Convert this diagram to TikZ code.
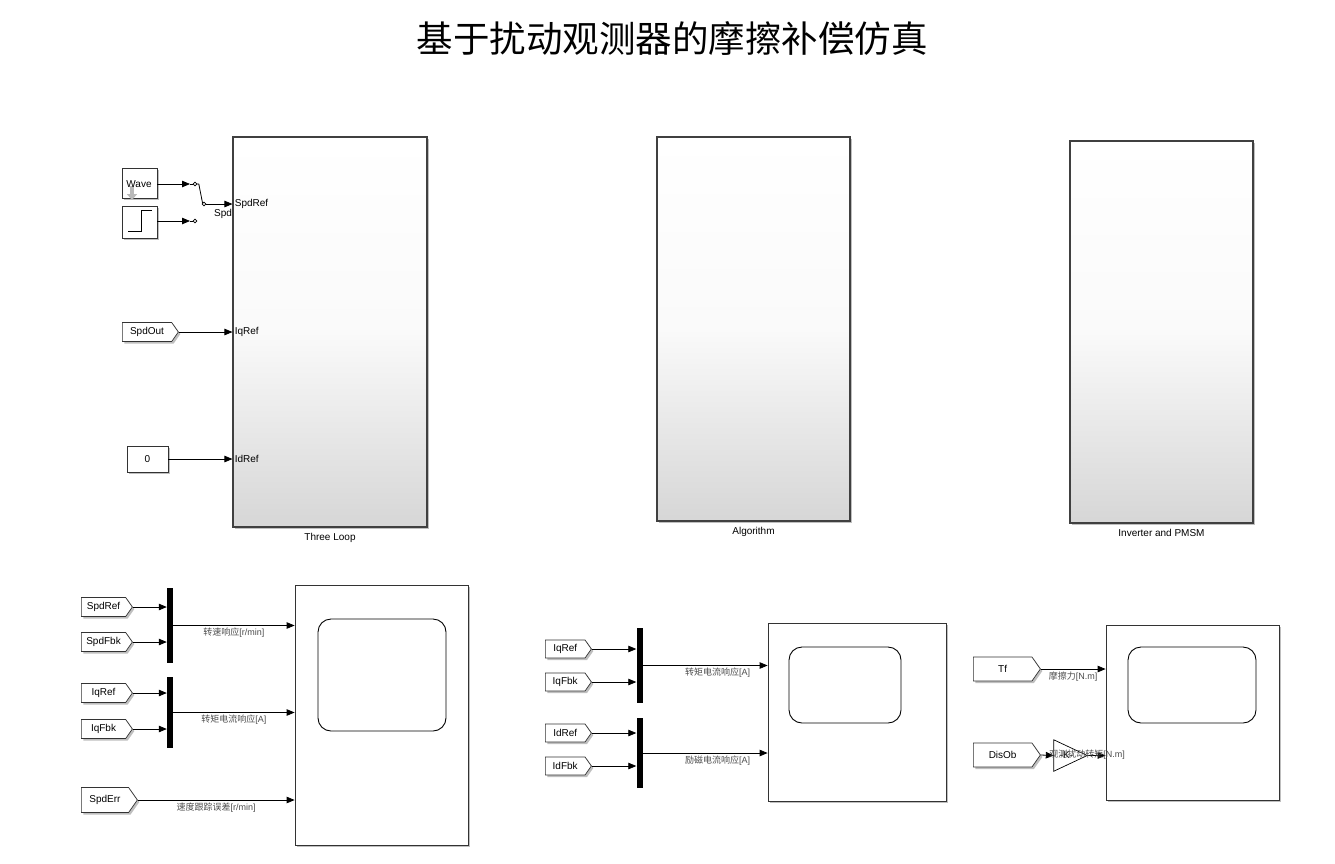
\documentclass[tikz,border=0pt]{standalone}
\usepackage{fontspec}
\setmainfont{Liberation Sans}
\newfontfamily\cjk{Noto Sans CJK SC}
\usetikzlibrary{shapes,arrows.meta,positioning,shadows}

\begin{document}
\begin{tikzpicture}[x=1pt, y=-1pt,
    shadowed/.style={drop shadow={shadow xshift=2pt, shadow yshift=-2pt, opacity=0.25, fill=black}},
    subsys/.style={rectangle, draw=black!75, line width=1.1pt, top color=white, bottom color=gray!32, middle color=gray!4, inner sep=0pt, shadowed},
    blk/.style={rectangle, draw=black!80, fill=white, line width=0.8pt, inner sep=0pt, shadowed, font=\fontsize{10}{12}\selectfont},
    scopebox/.style={rectangle, draw=black!80, fill=white, line width=0.8pt, inner sep=0pt, shadowed},
    screen/.style={rectangle, rounded corners=13pt, draw=black, line width=0.9pt, inner sep=0pt},
    tag/.style={shape=signal, signal to=east, signal pointer angle=110, draw=black!80, fill=white, line width=0.7pt, inner sep=2pt, anchor=west, minimum height=19pt, font=\fontsize{10}{12}\selectfont, shadowed},
    mux/.style={rectangle, fill=black, minimum width=6pt, inner sep=0pt},
    sig/.style={-{Triangle[length=8pt,width=6.5pt]}, line width=0.8pt},
    port/.style={right, inner sep=2pt, font=\fontsize{10}{12}\selectfont},
    lab/.style={inner sep=2pt, text=black!70, font=\fontsize{9}{10}\selectfont},
    caption/.style={font=\fontsize{10}{12}\selectfont}
]
    \useasboundingbox (0,0) rectangle (1335,863);

    \node[font=\cjk\fontsize{36.5}{40}\selectfont] (title) at (672,39) {基于扰动观测器的摩擦补偿仿真};

    % subsystems
    \node[subsys, minimum width=194pt, minimum height=390pt] (three) at (330,332) {};
    \node[subsys, minimum width=193pt, minimum height=384pt] (algo) at (753.5,329) {};
    \node[subsys, minimum width=183pt, minimum height=382pt] (inv) at (1161.5,332) {};
    \node[caption, below=2pt of three] (threelab) {Three Loop};
    \node[caption, below=2pt of algo] (algolab) {Algorithm};
    \node[caption, below=2pt of inv] (invlab) {Inverter and PMSM};

    % speed reference with manual switch
    \node[blk, minimum width=35pt, minimum height=30pt] (wave) at (139.5,183) {};
    \draw[gray!55, line width=3.5pt, -{Triangle[length=6pt,width=10pt]}] (132,186) -- (132,200);
    \node[font=\fontsize{10}{12}\selectfont] (wavetxt) at (139,184) {Wave};
    \node[blk, minimum width=35pt, minimum height=32pt] (step) at (139.5,222) {};
    \draw[line width=0.9pt] (128,231) -- (141,231) -- (141,210) -- (152,210);

    \coordinate (swa) at (195,184);
    \coordinate (swb) at (195,221);
    \coordinate (swo) at (204,204);
    \draw[sig] (wave.east |- swa) -- ([xshift=-5pt]swa);
    \draw[sig] (step.east |- swb) -- ([xshift=-5pt]swb);
    \draw[line width=0.7pt] ([xshift=-5pt]swa) -- ([xshift=-1.8pt]swa);
    \draw[line width=0.7pt] ([xshift=-5pt]swb) -- ([xshift=-1.8pt]swb);
    \draw[line width=0.7pt] (swa) circle[radius=1.8] (swb) circle[radius=1.8] (swo) circle[radius=1.8];
    \draw[line width=0.8pt] ([xshift=1.8pt]swa) -- ++(2,0) -- ([xshift=-1.5pt, yshift=1.2pt]swo);
    \draw[sig] ([xshift=1.8pt]swo) -- (swo -| three.west) node[port] {SpdRef};
    \node[font=\fontsize{10}{12}\selectfont] (spdlab) at (223,214) {Spd};

    \node[tag, minimum width=56pt] (spdout) at (122,332) {SpdOut};
    \draw[sig] (spdout.east) -- (spdout.east -| three.west) node[port] {IqRef};
    \node[blk, minimum width=41pt, minimum height=26pt] (zero) at (147.5,459) {0};
    \draw[sig] (zero.east) -- (zero.east -| three.west) node[port] {IdRef};

    % scope 1
    \node[scopebox, minimum width=173pt, minimum height=260pt] (sc1) at (381.5,715) {};
    \node[screen, minimum width=128pt, minimum height=112pt] (scr1) at (382,675) {};
    \node[tag, minimum width=51pt] (t1) at (81,607) {SpdRef};
    \node[tag, minimum width=51pt] (t2) at (81,642) {SpdFbk};
    \node[tag, minimum width=51pt] (t3) at (81,693) {IqRef};
    \node[tag, minimum width=51pt] (t4) at (81,729) {IqFbk};
    \node[tag, minimum width=56pt, minimum height=25pt] (t5) at (81,800) {SpdErr};
    \node[mux, minimum height=75pt] (m1) at (170,625.5) {};
    \node[mux, minimum height=71pt] (m2) at (170,712.5) {};
    \draw[sig] (t1.east) -- (t1.east -| m1.west);
    \draw[sig] (t2.east) -- (t2.east -| m1.west);
    \draw[sig] (t3.east) -- (t3.east -| m2.west);
    \draw[sig] (t4.east) -- (t4.east -| m2.west);
    \draw[sig] (m1.east) -- (m1.east -| sc1.west) node[lab, below, midway] {{\cjk 转速响应}[r/min]};
    \draw[sig] (m2.east) -- (m2.east -| sc1.west) node[lab, below, midway] {{\cjk 转矩电流响应}[A]};
    \draw[sig] (t5.east) -- (t5.east -| sc1.west) node[lab, below, midway] {{\cjk 速度跟踪误差}[r/min]};

    % scope 2
    \node[scopebox, minimum width=178pt, minimum height=178pt] (sc2) at (857,712) {};
    \node[screen, minimum width=112pt, minimum height=76pt] (scr2) at (845,685) {};
    \node[tag, minimum width=46pt, minimum height=18pt] (u1) at (545,649) {IqRef};
    \node[tag, minimum width=46pt, minimum height=18pt] (u2) at (545,682) {IqFbk};
    \node[tag, minimum width=46pt, minimum height=18pt] (u3) at (545,733) {IdRef};
    \node[tag, minimum width=46pt, minimum height=18pt] (u4) at (545,766) {IdFbk};
    \node[mux, minimum height=75pt] (m3) at (639.5,665.5) {};
    \node[mux, minimum height=70pt] (m4) at (639.5,753) {};
    \draw[sig] (u1.east) -- (u1.east -| m3.west);
    \draw[sig] (u2.east) -- (u2.east -| m3.west);
    \draw[sig] (u3.east) -- (u3.east -| m4.west);
    \draw[sig] (u4.east) -- (u4.east -| m4.west);
    \draw[sig] (m3.east) -- (m3.east -| sc2.west) node[lab, below, pos=0.6] {{\cjk 转矩电流响应}[A]};
    \draw[sig] (m4.east) -- (m4.east -| sc2.west) node[lab, below, pos=0.6] {{\cjk 励磁电流响应}[A]};

    % scope 3
    \node[scopebox, minimum width=173pt, minimum height=175pt] (sc3) at (1192.5,712.5) {};
    \node[screen, minimum width=128pt, minimum height=76pt] (scr3) at (1192,685) {};
    \node[tag, minimum width=67pt, minimum height=24pt] (tf) at (973,669) {Tf};
    \node[tag, minimum width=67pt, minimum height=24pt] (dob) at (973,755) {DisOb};
    \node[minimum width=33pt, minimum height=31pt, inner sep=0pt] (gk) at (1070.5,755.5) {};
    \draw[fill=white, line width=0.7pt] (gk.north west) -- (gk.east) -- (gk.south west) -- cycle;
    \node[font=\fontsize{10}{12}\selectfont] (gktxt) at ([xshift=-4pt]gk.center) {-K-};
    \draw[sig] (tf.east) -- (tf.east -| sc3.west) node[lab, below, midway] {{\cjk 摩擦力}[N.m]};
    \draw[sig] (dob.east) -- (gk.west);
    \draw[sig] (gk.east) -- (gk.east -| sc3.west);
    \node[lab] (gklab) at (1087,755) {{\cjk 观测扰动转矩}[N.m]};
\end{tikzpicture}
\end{document}
